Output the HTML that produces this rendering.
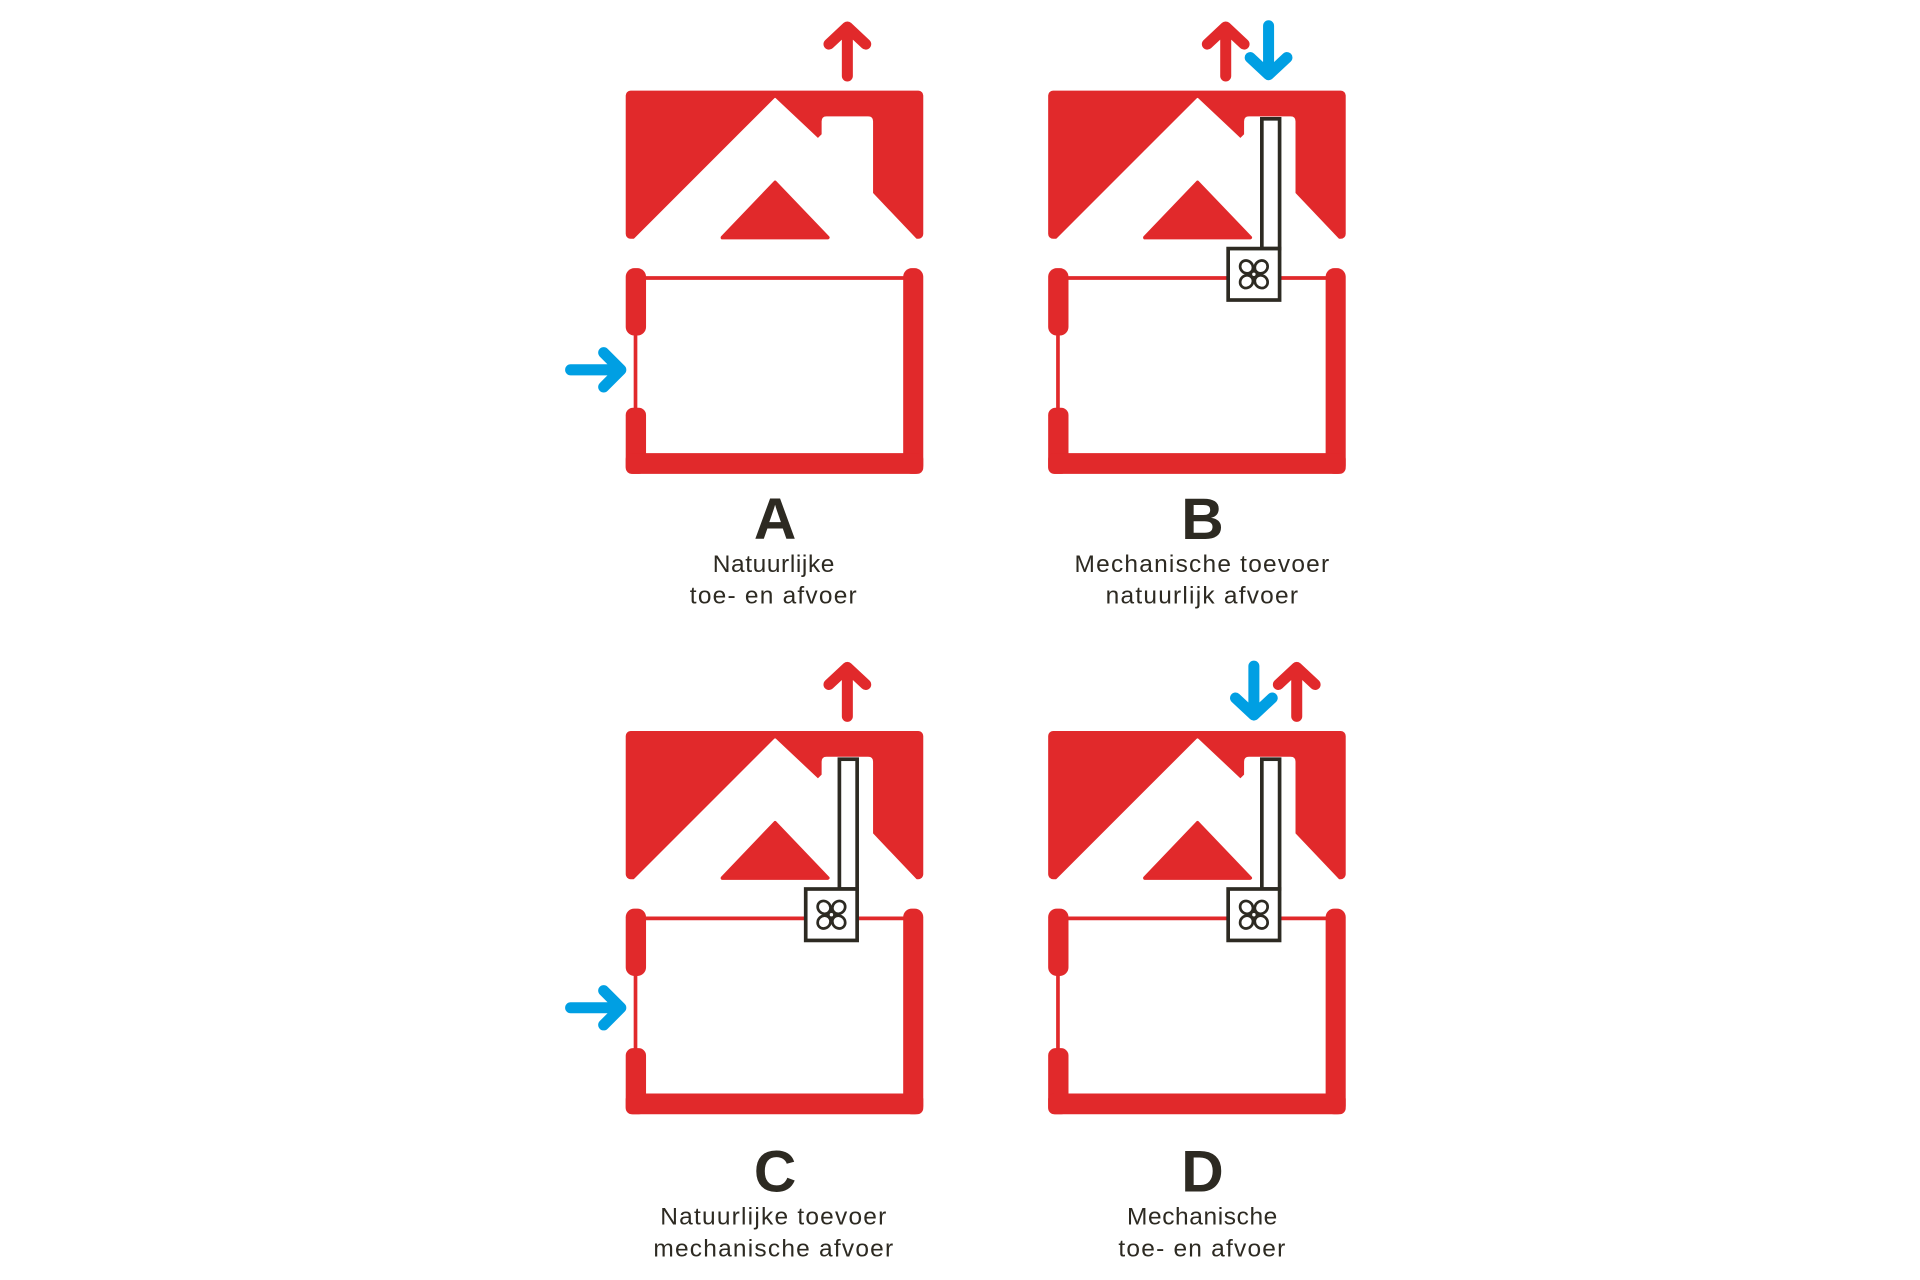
<!DOCTYPE html>
<html><head><meta charset="utf-8"><style>
html,body{margin:0;padding:0;background:#fff;}
svg{display:block;}
text{font-family:"Liberation Sans",sans-serif;fill:#2d2a22;}
</style></head><body>
<svg width="1920" height="1280" viewBox="0 0 1568 1045.3" xmlns="http://www.w3.org/2000/svg">
<defs>
<g id="house">
  <rect x="511" y="74" width="243" height="121" rx="4" fill="#e1292b"/>
  <path d="M516,198 L633,81 L668,114 L672,110 L672,99 Q672,96 675,96 L709,96 Q712,96 712,99 L712,158 L750,198 Z" fill="#fff" stroke="#fff" stroke-width="2" stroke-linejoin="round"/>
  <path d="M590,194 L633,149 L676,194 Z" fill="#e1292b" stroke="#e1292b" stroke-width="3" stroke-linejoin="round"/>
  <line x1="527" y1="227" x2="740" y2="227" stroke="#e1292b" stroke-width="3"/>
  <line x1="519" y1="270" x2="519" y2="338" stroke="#e1292b" stroke-width="3"/>
  <rect x="511" y="219" width="16.6" height="55" rx="7" fill="#e1292b"/>
  <rect x="511" y="333" width="16.6" height="54" rx="6" fill="#e1292b"/>
  <rect x="737.6" y="219" width="16.4" height="168" rx="7" fill="#e1292b"/>
  <rect x="511" y="370" width="243" height="17" rx="5" fill="#e1292b"/>
</g>
<g id="fan">
  <rect x="1030.5" y="97" width="14.5" height="106" fill="#fff" stroke="#2d2a22" stroke-width="3"/>
  <rect x="1003" y="203" width="42" height="42" fill="#fff" stroke="#2d2a22" stroke-width="3"/>
  <g fill="none" stroke="#2d2a22" stroke-width="2.2" transform="translate(1024,224)">
    <ellipse cx="-6" cy="-6" rx="5.5" ry="5" transform="rotate(45 -6 -6)"/>
    <ellipse cx="6" cy="-6" rx="5.5" ry="5" transform="rotate(-45 6 -6)"/>
    <ellipse cx="6" cy="6" rx="5.5" ry="5" transform="rotate(45 6 6)"/>
    <ellipse cx="-6" cy="6" rx="5.5" ry="5" transform="rotate(-45 -6 6)"/>
    <circle cx="0" cy="0" r="2.5" fill="#fff"/>
  </g>
</g>
<g id="up"><path d="M0,43 L0,4 M-15,17 L0,3 L15,17" fill="none" stroke="#e1292b" stroke-width="9" stroke-linecap="round" stroke-linejoin="round"/></g>
<g id="down"><path d="M0,0 L0,39 M-15,26 L0,40 L15,26" fill="none" stroke="#009fe3" stroke-width="9" stroke-linecap="round" stroke-linejoin="round"/></g>
<g id="right"><path d="M0,0 L40,0 M27,-14 L41,0 L27,14" fill="none" stroke="#009fe3" stroke-width="9" stroke-linecap="round" stroke-linejoin="round"/></g>
</defs>

<!-- A -->
<use href="#house"/>
<use href="#up" x="692" y="19"/>
<use href="#right" x="466" y="302"/>
<text x="633" y="440" font-size="48" font-weight="bold" text-anchor="middle">A</text>
<text x="632" y="467" font-size="20" text-anchor="middle" letter-spacing="0.5">Natuurlijke</text>
<text x="632" y="493" font-size="20" text-anchor="middle" letter-spacing="1">toe-  en  afvoer</text>

<!-- B -->
<use href="#house" x="345"/>
<use href="#fan"/>
<use href="#up" x="1001" y="19"/>
<use href="#down" x="1036" y="21"/>
<text x="982" y="440" font-size="48" font-weight="bold" text-anchor="middle">B</text>
<text x="982" y="467" font-size="20" text-anchor="middle" letter-spacing="1">Mechanische  toevoer</text>
<text x="982" y="493" font-size="20" text-anchor="middle" letter-spacing="1">natuurlijk  afvoer</text>

<!-- C -->
<use href="#house" y="523"/>
<use href="#fan" x="-345" y="523"/>
<use href="#up" x="692" y="542"/>
<use href="#right" x="466" y="823"/>
<text x="633" y="973" font-size="48" font-weight="bold" text-anchor="middle">C</text>
<text x="632" y="1000" font-size="20" text-anchor="middle" letter-spacing="1">Natuurlijke  toevoer</text>
<text x="632" y="1026" font-size="20" text-anchor="middle" letter-spacing="1">mechanische  afvoer</text>

<!-- D -->
<use href="#house" x="345" y="523"/>
<use href="#fan" y="523"/>
<use href="#down" x="1024" y="544"/>
<use href="#up" x="1059" y="542"/>
<text x="982" y="973" font-size="48" font-weight="bold" text-anchor="middle">D</text>
<text x="982" y="1000" font-size="20" text-anchor="middle" letter-spacing="0.5">Mechanische</text>
<text x="982" y="1026" font-size="20" text-anchor="middle" letter-spacing="1">toe-  en  afvoer</text>
</svg>
</body></html>
